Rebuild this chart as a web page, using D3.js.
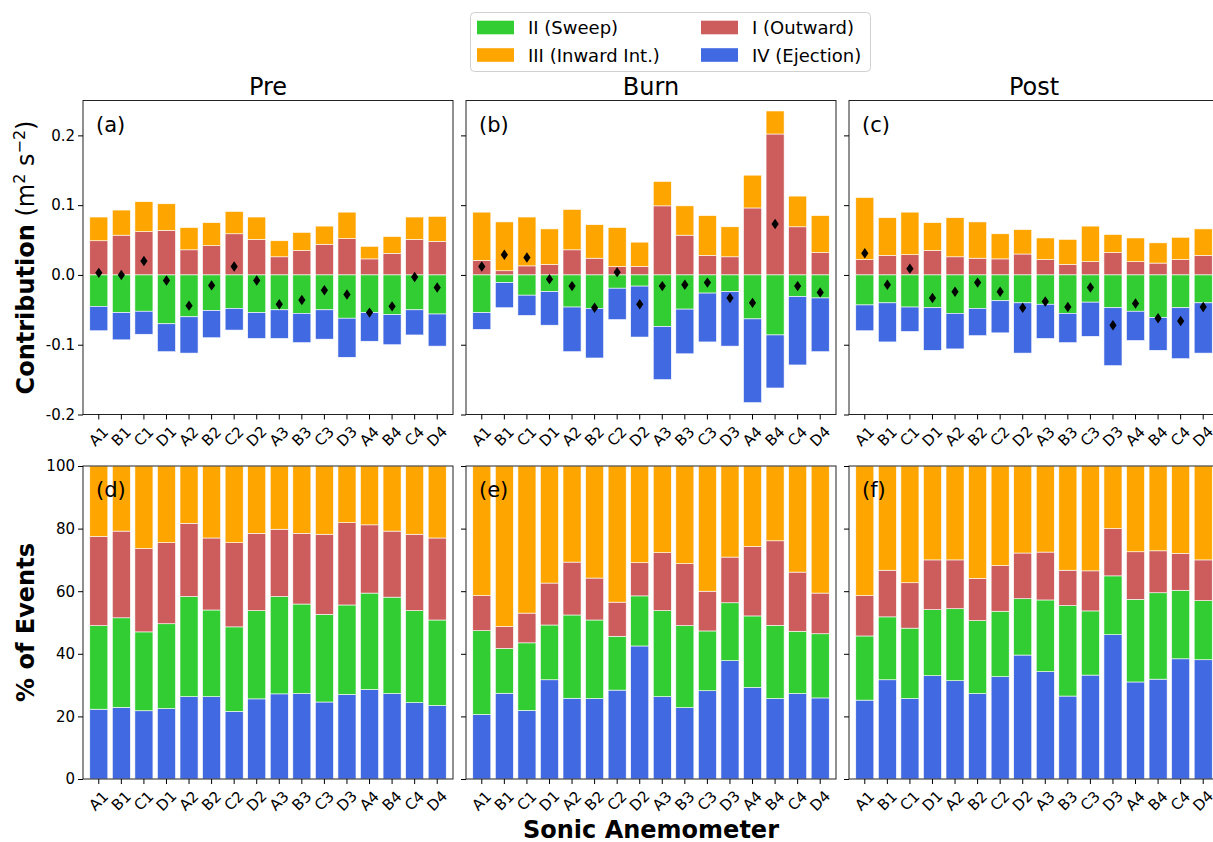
<!DOCTYPE html>
<html>
<head>
<meta charset="utf-8" />
<title>Quadrant analysis</title>
<style>
html, body {
    margin: 0;
    padding: 0;
    background: #fff;
}
svg text {
    font-family: "DejaVu Sans", sans-serif;
}
</style>
</head>
<body>
<div id="chart"></div>
<script src="https://cdnjs.cloudflare.com/ajax/libs/d3/7.8.5/d3.min.js"></script>
<script>
!(function(){
    "use strict"

    var sensors = ["A1","B1","C1","D1","A2","B2","C2","D2","A3","B3","C3","D3","A4","B4","C4","D4"]
    var periods = ["Pre", "Burn", "Post"]
    var topTags = ["(a)", "(b)", "(c)"]
    var bottomTags = ["(d)", "(e)", "(f)"]

    // contribution of each quadrant to the flux (m2 s-2)
    var preOut    = [0.049,0.057,0.062,0.064,0.036,0.042,0.059,0.051,0.026,0.035,0.044,0.052,0.023,0.031,0.051,0.048]
    var preInward = [0.034,0.036,0.043,0.038,0.032,0.033,0.032,0.032,0.023,0.026,0.026,0.038,0.018,0.024,0.032,0.036]
    var preSweep  = [-0.045,-0.054,-0.052,-0.070,-0.060,-0.051,-0.048,-0.054,-0.050,-0.055,-0.050,-0.062,-0.054,-0.057,-0.050,-0.056]
    var preEject  = [-0.035,-0.039,-0.033,-0.040,-0.052,-0.039,-0.031,-0.037,-0.041,-0.042,-0.042,-0.056,-0.041,-0.043,-0.036,-0.046]

    var burnOut    = [0.021,0.006,0.013,0.015,0.036,0.024,0.012,0.012,0.099,0.057,0.028,0.026,0.096,0.202,0.069,0.032]
    var burnInward = [0.069,0.070,0.070,0.051,0.058,0.048,0.056,0.035,0.035,0.042,0.057,0.043,0.047,0.033,0.044,0.053]
    var burnSweep  = [-0.054,-0.011,-0.029,-0.024,-0.046,-0.048,-0.019,-0.016,-0.074,-0.049,-0.026,-0.024,-0.063,-0.086,-0.031,-0.033]
    var burnEject  = [-0.024,-0.036,-0.029,-0.048,-0.064,-0.071,-0.045,-0.073,-0.076,-0.064,-0.070,-0.078,-0.120,-0.076,-0.098,-0.077]

    var postOut    = [0.022,0.028,0.029,0.035,0.026,0.024,0.023,0.030,0.022,0.015,0.019,0.032,0.019,0.017,0.022,0.028]
    var postInward = [0.089,0.054,0.061,0.040,0.056,0.052,0.036,0.035,0.031,0.036,0.051,0.026,0.034,0.029,0.032,0.038]
    var postSweep  = [-0.043,-0.040,-0.046,-0.047,-0.055,-0.048,-0.037,-0.040,-0.042,-0.055,-0.039,-0.047,-0.052,-0.061,-0.047,-0.040]
    var postEject  = [-0.037,-0.056,-0.035,-0.061,-0.051,-0.039,-0.046,-0.072,-0.049,-0.042,-0.049,-0.083,-0.042,-0.047,-0.073,-0.072]

    // % of events in each quadrant
    var prePctEject  = [22.3,22.9,21.8,22.5,26.3,26.3,21.6,25.6,27.2,27.3,24.6,27.0,28.6,27.3,24.4,23.5]
    var prePctSweep  = [26.7,28.6,25.2,27.1,32.0,27.7,27.0,28.2,31.1,28.6,28.0,28.6,30.8,30.8,29.4,27.3]
    var prePctOut    = [28.5,27.7,26.6,25.9,23.4,23.0,26.9,24.7,21.5,22.6,25.6,26.3,21.8,21.1,24.4,26.2]
    var prePctInward = [22.5,20.8,26.4,24.5,18.3,23.0,24.5,21.5,20.2,21.5,21.8,18.1,18.8,20.8,21.8,23.0]

    var burnPctEject  = [20.6,27.4,21.9,31.7,25.8,25.7,28.4,42.5,26.3,22.8,28.2,37.8,29.3,25.7,27.3,25.9]
    var burnPctSweep  = [26.8,14.3,21.6,17.5,26.6,25.1,17.2,16.0,27.5,26.2,19.1,18.5,22.8,23.4,19.9,20.5]
    var burnPctOut    = [11.2,7.0,9.5,13.4,16.9,13.4,10.9,10.6,18.5,19.8,12.7,14.6,22.2,27.0,18.9,13.0]
    var burnPctInward = [41.4,51.3,47.0,37.4,30.7,35.8,43.5,30.9,27.7,31.2,40.0,29.1,25.7,23.9,33.9,40.6]

    var postPctEject  = [25.2,31.7,25.7,33.0,31.4,27.3,32.7,39.6,34.3,26.5,33.2,46.1,31.0,31.9,38.4,38.1]
    var postPctSweep  = [20.5,20.1,22.5,21.1,23.0,23.3,20.9,18.0,22.9,28.9,20.5,18.8,26.4,27.6,21.9,18.9]
    var postPctOut    = [12.9,14.9,14.5,15.9,15.6,13.5,14.6,14.6,15.3,11.3,12.8,15.1,15.2,13.4,11.8,13.0]
    var postPctInward = [41.4,33.3,37.3,30.0,30.0,35.9,31.8,27.8,27.5,33.3,33.5,20.0,27.4,27.1,27.9,30.0]

    var quadNames  = { I: "I (Outward)", II: "II (Sweep)", III: "III (Inward Int.)", IV: "IV (Ejection)" }
    var quadColors = { I: "#cd5c5c", II: "#32cd32", III: "#ffa500", IV: "#4169e1" }
    var legendOrder = ["II", "III", "I", "IV"]

    function rows(out, sweep, inward, eject) {
        return sensors.map(function(s, i) {
            return { sensor: s, I: out[i], II: sweep[i], III: inward[i], IV: eject[i] }
        })
    }

    var contribRows = [
        rows(preOut, preSweep, preInward, preEject),
        rows(burnOut, burnSweep, burnInward, burnEject),
        rows(postOut, postSweep, postInward, postEject)
    ]
    var pctRows = [
        rows(prePctOut, prePctSweep, prePctInward, prePctEject),
        rows(burnPctOut, burnPctSweep, burnPctInward, burnPctEject),
        rows(postPctOut, postPctSweep, postPctInward, postPctEject)
    ]

    var width = 1213, height = 842
    var panelW = 370
    var panelX = [83, 466, 849]
    var topBox = { y0: 100.5, y1: 414.5 }
    var botBox = { y0: 466, y1: 779 }

    var svg = d3.select("#chart").append("svg")
        .attr("width", width)
        .attr("height", height)

    var yTop = d3.scaleLinear().domain([-0.2, 0.25]).range([topBox.y1, topBox.y0])
    var yBot = d3.scaleLinear().domain([0, 100]).range([botBox.y1, botBox.y0])

    var stackTop = d3.stack().keys(["I", "III", "II", "IV"]).offset(d3.stackOffsetDiverging)
    var stackBot = d3.stack().keys(["IV", "II", "I", "III"])

    periods.forEach(function(period, p) {
        var x = d3.scaleBand()
            .domain(sensors)
            .range([panelX[p], panelX[p] + panelW])
            .paddingInner(0.2)
            .paddingOuter(0.3)

        drawPanel(x, yTop, stackTop(contribRows[p]), topBox, p, topTags[p])
        drawPanel(x, yBot, stackBot(pctRows[p]), botBox, p, bottomTags[p])

        // net flux marker
        svg.append("g")
            .selectAll("path")
            .data(contribRows[p])
            .enter().append("path")
            .attr("d", "M0,-5.2L3.6,0L0,5.2L-3.6,0Z")
            .attr("fill", "#000")
            .attr("transform", function(d) {
                var net = d.I + d.II + d.III + d.IV
                return "translate(" + (x(d.sensor) + x.bandwidth() / 2) + "," + yTop(net) + ")"
            })

        // left axes
        var yAxis = p === 0 ? topAxis(yTop, [-0.2, -0.1, 0, 0.1, 0.2], function(d) { return d.toFixed(1) })
                            : topAxis(yTop, [-0.2, -0.1, 0, 0.1, 0.2], function() { return "" })
        svg.append("g").attr("transform", "translate(" + panelX[p] + ",0)").call(yAxis).call(styleAxis)

        var yAxis2 = topAxis(yBot, [0, 20, 40, 60, 80, 100], p === 0 ? function(d) { return d } : function() { return "" })
        svg.append("g").attr("transform", "translate(" + panelX[p] + ",0)").call(yAxis2).call(styleAxis)

        // bottom axes with rotated sensor names
        ;[topBox.y1, botBox.y1].forEach(function(yy) {
            svg.append("g")
                .attr("transform", "translate(0," + yy + ")")
                .call(d3.axisBottom(x).tickSize(5))
                .call(styleAxis)
                .selectAll("text")
                .attr("y", null)
                .attr("dy", null)
                .attr("text-anchor", "middle")
                .attr("dominant-baseline", "central")
                .attr("transform", "translate(0,22) rotate(-45)")
        })

        svg.append("text")
            .attr("x", panelX[p] + panelW / 2)
            .attr("y", 95)
            .attr("text-anchor", "middle")
            .attr("font-size", "24px")
            .text(period)
    })

    function topAxis(scale, values, fmt) {
        return d3.axisLeft(scale).tickValues(values).tickSize(5).tickPadding(3).tickFormat(fmt)
    }

    function styleAxis(g) {
        g.select(".domain").remove()
        g.selectAll(".tick line").attr("stroke", "#000").attr("stroke-width", 1)
        g.selectAll(".tick text").attr("font-size", "15px").attr("fill", "#000")
            .attr("font-family", "DejaVu Sans")
    }

    function drawPanel(x, y, series, box, p, tag) {
        var g = svg.append("g")
        g.selectAll("g")
            .data(series)
            .enter().append("g")
            .attr("fill", function(d) { return quadColors[d.key] })
            .selectAll("rect")
            .data(function(d) { return d })
            .enter().append("rect")
            .attr("x", function(d) { return x(d.data.sensor) })
            .attr("width", x.bandwidth())
            .attr("y", function(d) { return y(Math.max(d[0], d[1])) })
            .attr("height", function(d) { return Math.abs(y(d[0]) - y(d[1])) })
            .attr("stroke", "#fff")
            .attr("stroke-width", 0.6)

        g.append("rect")
            .attr("x", panelX[p])
            .attr("y", box.y0)
            .attr("width", panelW)
            .attr("height", box.y1 - box.y0)
            .attr("fill", "none")
            .attr("stroke", "#222")
            .attr("stroke-width", 1)

        g.append("text")
            .attr("x", panelX[p] + 13)
            .attr("y", box.y0 + 31)
            .attr("font-size", "21px")
            .text(tag)
    }

    // axis titles
    var yl = svg.append("text")
        .attr("transform", "translate(34," + ((topBox.y0 + topBox.y1) / 2) + ") rotate(-90)")
        .attr("text-anchor", "middle")
        .attr("font-size", "24px")
    yl.append("tspan").attr("font-weight", "bold").text("Contribution")
    yl.append("tspan").text(" (m")
    yl.append("tspan").attr("font-size", "16px").attr("dy", -9).text("2")
    yl.append("tspan").attr("dy", 9).text(" s")
    yl.append("tspan").attr("font-size", "16px").attr("dy", -9).text("\u22122")
    yl.append("tspan").attr("dy", 9).text(")")

    svg.append("text")
        .attr("transform", "translate(34," + ((botBox.y0 + botBox.y1) / 2) + ") rotate(-90)")
        .attr("text-anchor", "middle")
        .attr("font-size", "24px")
        .attr("font-weight", "bold")
        .text("% of Events")

    svg.append("text")
        .attr("x", 651)
        .attr("y", 838)
        .attr("text-anchor", "middle")
        .attr("font-size", "24px")
        .attr("font-weight", "bold")
        .text("Sonic Anemometer")

    // legend
    var legend = svg.append("g")
    legend.append("rect")
        .attr("x", 470.5).attr("y", 12.5)
        .attr("width", 400).attr("height", 59)
        .attr("rx", 4)
        .attr("fill", "#fff")
        .attr("stroke", "#d0d0d0")

    var item = legend.selectAll("g.item")
        .data(legendOrder)
        .enter().append("g")
        .attr("class", "item")
        .attr("transform", function(d, i) {
            return "translate(" + (i < 2 ? 477 : 701) + "," + (i % 2 === 0 ? 27.5 : 55) + ")"
        })
    item.append("rect")
        .attr("x", 0).attr("y", -6.8)
        .attr("width", 37).attr("height", 13.6)
        .attr("fill", function(d) { return quadColors[d] })
    item.append("text")
        .attr("x", 51)
        .attr("dominant-baseline", "central")
        .attr("font-size", "18px")
        .text(function(d) { return quadNames[d] })

}());
</script>
</body>
</html>
